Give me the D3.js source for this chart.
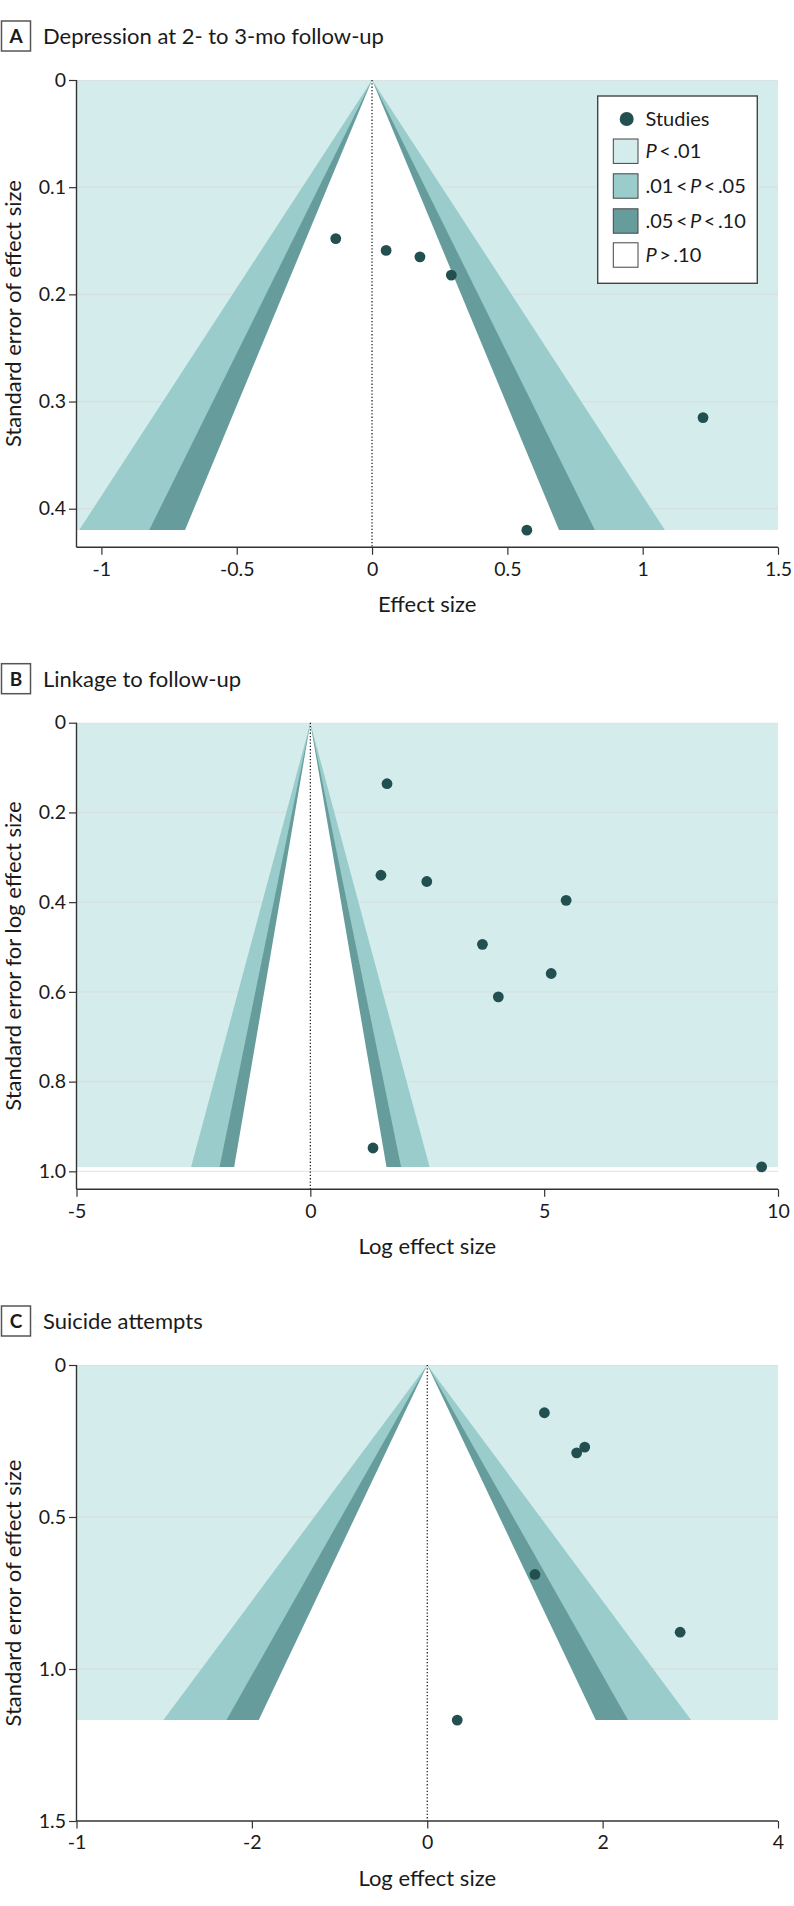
<!DOCTYPE html>
<html>
<head>
<meta charset="utf-8">
<script src="https://cdn.jsdelivr.net/npm/d3@7"></script>
<style>
  html, body { margin: 0; padding: 0; background: #fff; }
  svg { display: block; font-family: Lato, "Open Sans", sans-serif; }
</style>
</head>
<body>
<svg id="chart" width="794" height="1906"></svg>
<script>
// ---------------- DATA ----------------
// Contour z values bounding the significance regions (p = .01, .05, .10)
const zLevels = [2.576, 1.96, 1.645];

// Panel A: Depression at 2- to 3-mo follow-up
const depressionEffect = [-0.134, 0.052, 0.177, 0.293, 1.223, 0.572];
const depressionSE     = [0.148, 0.159, 0.165, 0.182, 0.315, 0.420];
const depressionXTicks = [-1, -0.5, 0, 0.5, 1, 1.5];
const depressionXLabels = ["-1", "-0.5", "0", "0.5", "1", "1.5"];
const depressionYTicks = [0, 0.1, 0.2, 0.3, 0.4];
const depressionYLabels = ["0", "0.1", "0.2", "0.3", "0.4"];

// Panel B: Linkage to follow-up
const linkageEffect = [1.64, 1.51, 2.49, 5.47, 3.68, 5.15, 4.02, 1.34, 9.65];
const linkageSE     = [0.136, 0.340, 0.354, 0.396, 0.494, 0.559, 0.611, 0.948, 0.990];
const linkageXTicks = [-5, 0, 5, 10];
const linkageXLabels = ["-5", "0", "5", "10"];
const linkageYTicks = [0, 0.2, 0.4, 0.6, 0.8, 1.0];
const linkageYLabels = ["0", "0.2", "0.4", "0.6", "0.8", "1.0"];

// Panel C: Suicide attempts
const suicideEffect = [1.336, 1.796, 1.704, 1.228, 2.884, 0.342];
const suicideSE     = [0.157, 0.270, 0.289, 0.689, 0.879, 1.168];
const suicideXTicks = [-4, -2, 0, 2, 4];
const suicideXLabels = ["-1", "-2", "0", "2", "4"];
const suicideYTicks = [0, 0.5, 1.0, 1.5];
const suicideYLabels = ["0", "0.5", "1.0", "1.5"];

const legendLabels = ["Studies", "P < .01", ".01 < P < .05", ".05 < P < .10", "P > .10"];

// ---------------- STYLE / LAYOUT ----------------
const COL = {
  light: "#d4ecec",
  mid: "#99cccb",
  dark: "#669d9c",
  white: "#ffffff",
  dot: "#224f50",
  grid: "#dcd8d8",
  axis: "#333333",
  text: "#1a1a1a"
};
const X0 = 76.5, X1 = 778;

const panels = [
  { letter: "A", title: "Depression at 2- to 3-mo follow-up",
    effect: depressionEffect, se: depressionSE,
    xDomain: [-1.092, 1.5], yDomain: [0, 0.436],
    xTicks: depressionXTicks, xLabels: depressionXLabels,
    yTicks: depressionYTicks, yLabels: depressionYLabels,
    top: 80, bottom: 547.3,
    xTitle: "Effect size", yTitle: "Standard error of effect size", legend: true },
  { letter: "B", title: "Linkage to follow-up",
    effect: linkageEffect, se: linkageSE,
    xDomain: [-5, 10], yDomain: [0, 1.04],
    xTicks: linkageXTicks, xLabels: linkageXLabels,
    yTicks: linkageYTicks, yLabels: linkageYLabels,
    top: 722.7, bottom: 1189.3,
    xTitle: "Log effect size", yTitle: "Standard error for log effect size", legend: false },
  { letter: "C", title: "Suicide attempts",
    effect: suicideEffect, se: suicideSE,
    xDomain: [-4, 4], yDomain: [0, 1.5],
    xTicks: suicideXTicks, xLabels: suicideXLabels,
    yTicks: suicideYTicks, yLabels: suicideYLabels,
    top: 1365, bottom: 1821,
    xTitle: "Log effect size", yTitle: "Standard error of effect size", legend: false }
];

const svg = d3.select("#chart");

panels.forEach((p, i) => {
  const g = svg.append("g");
  const x = d3.scaleLinear().domain(p.xDomain).range([X0, X1]);
  const y = d3.scaleLinear().domain(p.yDomain).range([p.top, p.bottom]);
  const seMax = d3.max(p.se);
  const yTop = Math.round(y(0));
  const yBase = Math.round(y(seMax));

  // clip
  const clipId = "clip" + i;
  svg.append("clipPath").attr("id", clipId)
    .append("rect").attr("x", X0).attr("y", p.top)
    .attr("width", X1 - X0).attr("height", p.bottom - p.top);

  const plot = g.append("g").attr("clip-path", `url(#${clipId})`);

  // light region (P < .01)
  plot.append("rect")
    .attr("x", x(p.xDomain[0])).attr("y", yTop)
    .attr("width", x(p.xDomain[1]) - x(p.xDomain[0]))
    .attr("height", yBase - yTop)
    .attr("fill", COL.light);

  // gridlines
  plot.selectAll("line.grid").data(p.yTicks.filter(t => t < p.yDomain[1]))
    .join("line").attr("class", "grid")
    .attr("x1", X0).attr("x2", X1)
    .attr("y1", d => y(d)).attr("y2", d => y(d))
    .attr("stroke", COL.grid).attr("stroke-width", 1.3)
    .attr("opacity", 0.6);

  // funnel contours
  const fills = [COL.mid, COL.dark, COL.white];
  zLevels.forEach((z, k) => {
    const pts = [[x(0), yTop], [x(-z * seMax), yBase], [x(z * seMax), yBase]];
    plot.append("path")
      .attr("d", d3.line()(pts) + "Z")
      .attr("fill", fills[k]);
  });

  // dotted zero line
  g.append("line")
    .attr("x1", x(0)).attr("x2", x(0))
    .attr("y1", y(0)).attr("y2", p.bottom)
    .attr("stroke", "#111").attr("stroke-width", 1.2)
    .attr("stroke-dasharray", "1.3,2");

  // axes
  const yAxis = d3.axisLeft(y).tickValues(p.yTicks)
    .tickFormat((d, j) => p.yLabels[j]).tickSize(7.5).tickPadding(3);
  const yg = g.append("g").attr("transform", `translate(${X0},0)`).call(yAxis);
  yg.select(".domain").attr("d", `M-0,${p.top}V${p.bottom}`).attr("stroke", COL.axis).attr("stroke-width", 1.4);
  yg.selectAll(".tick line").attr("stroke", COL.axis).attr("stroke-width", 1.2);
  yg.selectAll(".tick text").attr("font-size", 19.5).attr("fill", COL.text)
    .attr("font-family", "Lato, sans-serif");

  const xAxis = d3.axisBottom(x).tickValues(p.xTicks)
    .tickFormat((d, j) => p.xLabels[j]).tickSize(7.5).tickPadding(7);
  const xg = g.append("g").attr("transform", `translate(0,${p.bottom})`).call(xAxis);
  xg.select(".domain").attr("d", `M${X0},0H${X1}`).attr("stroke", COL.axis).attr("stroke-width", 1.4);
  xg.selectAll(".tick line").attr("stroke", COL.axis).attr("stroke-width", 1.2);
  xg.selectAll(".tick text").attr("font-size", 19.5).attr("fill", COL.text)
    .attr("font-family", "Lato, sans-serif");

  // points
  g.selectAll("circle.study").data(p.effect.map((e, j) => ({ e, s: p.se[j] })))
    .join("circle").attr("class", "study")
    .attr("cx", d => x(d.e)).attr("cy", d => y(d.s))
    .attr("r", 5.4).attr("fill", COL.dot);

  // axis titles
  g.append("text")
    .attr("x", (X0 + X1) / 2).attr("y", p.bottom + 57)
    .attr("text-anchor", "middle").attr("dy", "0.35em")
    .attr("font-size", 22).attr("fill", COL.text)
    .text(p.xTitle);
  g.append("text")
    .attr("transform", `translate(13,${(p.top + p.bottom) / 2}) rotate(-90)`)
    .attr("text-anchor", "middle").attr("dy", "0.35em")
    .attr("font-size", 22).attr("fill", COL.text)
    .text(p.yTitle);

  // panel title
  const tc = p.top - 44;
  g.append("rect").attr("x", 1.5).attr("y", tc - 15).attr("width", 29).attr("height", 30)
    .attr("fill", "#fff").attr("stroke", "#555").attr("stroke-width", 1.5);
  g.append("text").attr("x", 16).attr("y", tc).attr("dy", "0.36em")
    .attr("text-anchor", "middle").attr("font-weight", "bold").attr("font-size", 19)
    .attr("fill", COL.text).text(p.letter);
  g.append("text").attr("x", 43).attr("y", tc).attr("dy", "0.36em")
    .attr("font-size", 22).attr("fill", COL.text).text(p.title);

  // legend
  if (p.legend) {
    const lg = g.append("g");
    lg.append("rect").attr("x", 597.7).attr("y", 96).attr("width", 159.6).attr("height", 187.3)
      .attr("fill", "#fff").attr("stroke", "#444").attr("stroke-width", 1.4);
    const rowY = [119, 151.2, 186, 221, 255];
    const swFill = [null, COL.light, COL.mid, COL.dark, COL.white];
    legendLabels.forEach((lab, j) => {
      if (j === 0) {
        lg.append("circle").attr("cx", 626.7).attr("cy", rowY[j]).attr("r", 7).attr("fill", COL.dot);
      } else {
        lg.append("rect").attr("x", 613.3).attr("y", rowY[j] - 12.2).attr("width", 24.7).attr("height", 24.4)
          .attr("fill", swFill[j]).attr("stroke", "#444").attr("stroke-width", 1);
      }
      const t = lg.append("text").attr("x", 645.5).attr("y", rowY[j]).attr("dy", "0.36em")
        .attr("font-size", 20).attr("fill", COL.text);
      // render italic P within label
      const parts = lab.split("P");
      parts.forEach((part, m) => {
        if (m > 0) t.append("tspan").attr("font-style", "italic").text("P");
        if (part.length) t.append("tspan").text(part.replace(/ /g, "\u2009"));
      });
    });
  }
});
</script>
</body>
</html>
